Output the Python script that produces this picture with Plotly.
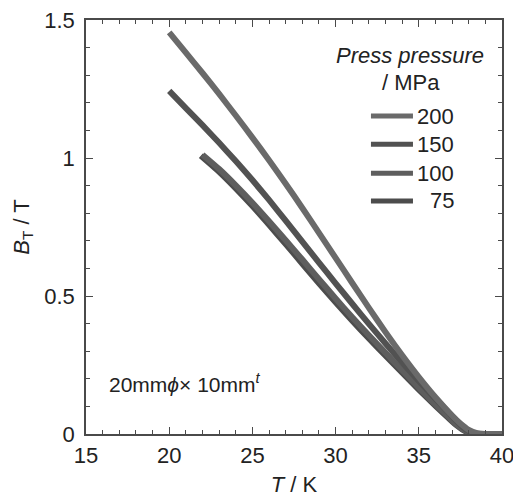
import plotly.graph_objects as go

# ---- data ----
T_200 = [20, 21, 22, 23, 24, 25, 26, 27, 28, 29, 30, 31, 32, 33, 34, 35, 36, 37, 37.5, 38, 38.5, 39, 40]
B_200 = [1.455, 1.382, 1.308, 1.232, 1.154, 1.074, 0.992, 0.907, 0.819, 0.729, 0.638, 0.547, 0.457,
         0.369, 0.285, 0.206, 0.133, 0.067, 0.038, 0.015, 0.003, 0.0, 0.0]

T_150 = [20, 21, 22, 23, 24, 25, 26, 27, 28, 29, 30, 31, 32, 33, 34, 35, 36, 36.8, 37.3, 37.8, 38.3, 39, 40]
B_150 = [1.243, 1.181, 1.119, 1.055, 0.989, 0.920, 0.848, 0.773, 0.697, 0.621, 0.546, 0.472, 0.399,
         0.328, 0.259, 0.192, 0.128, 0.078, 0.046, 0.018, 0.003, 0.0, 0.0]

T_100 = [22.0, 23, 24, 25, 26, 27, 28, 29, 30, 31, 32, 33, 34, 35, 36, 36.8, 37.3, 37.8, 38.3, 39, 40]
B_100 = [1.012, 0.960, 0.901, 0.838, 0.771, 0.702, 0.632, 0.561, 0.491, 0.423, 0.358, 0.294,
         0.231, 0.168, 0.107, 0.061, 0.033, 0.012, 0.002, 0.0, 0.0]

T_75 = [21.9, 23, 24, 25, 26, 27, 28, 29, 30, 31, 32, 33, 34, 35, 36, 36.8, 37.3, 37.8, 38.3, 39, 40]
B_75 = [1.008, 0.950, 0.890, 0.826, 0.758, 0.688, 0.617, 0.546, 0.477, 0.410, 0.346, 0.284,
        0.222, 0.161, 0.102, 0.057, 0.030, 0.010, 0.001, 0.0, 0.0]

series_labels = ["200", "150", "100", "75"]
series_colors = ["#6a6a6a", "#525252", "#5e5e5e", "#4c4c4c"]
series_T = [T_200, T_150, T_100, T_75]
series_B = [B_200, B_150, B_100, B_75]

x_ticks = [15, 20, 25, 30, 35, 40]
y_ticks = [0, 0.5, 1, 1.5]
y_ticklabels = ["0", "0.5", "1", "1.5"]

FONT = "Arial, Liberation Sans, sans-serif"
TXT = "#222222"
AX = "#4a4a4a"
FS = 22

fig = go.Figure()
for T, B, c, lab in reversed(list(zip(series_T, series_B, series_colors, series_labels))):
    fig.add_trace(go.Scatter(x=T, y=B, mode="lines", name=lab,
                             line=dict(color=c, width=6, shape="spline", smoothing=0.6),
                             showlegend=False))

# custom legend
leg_y = [0.768, 0.700, 0.630, 0.563]
for yy, c, lab in zip(leg_y, series_colors, series_labels):
    fig.add_shape(type="line", xref="paper", yref="paper", x0=0.685, x1=0.786, y0=yy, y1=yy,
                  line=dict(color=c, width=5))
    fig.add_annotation(xref="paper", yref="paper", x=0.889, y=yy, text=lab, showarrow=False,
                       xanchor="right", yanchor="middle", font=dict(size=FS, color=TXT, family=FONT))

fig.add_annotation(xref="paper", yref="paper", x=0.962, y=0.915, text="<i>Press pressure</i>",
                   showarrow=False, xanchor="right", yanchor="middle",
                   font=dict(size=FS, color=TXT, family=FONT))
fig.add_annotation(xref="paper", yref="paper", x=0.781, y=0.850, text="/ MPa",
                   showarrow=False, xanchor="center", yanchor="middle",
                   font=dict(size=FS, color=TXT, family=FONT))
fig.add_annotation(xref="paper", yref="paper", x=0.050, y=0.123,
                   text="20mm<i>\u03d5</i>\u00d7 10mm<sup><i>t</i></sup>",
                   showarrow=False, xanchor="left", yanchor="middle",
                   font=dict(size=21, color=TXT, family=FONT))

axis_common = dict(showgrid=False, zeroline=False, showline=True, linecolor=AX, linewidth=1.5,
                   mirror="allticks", ticks="inside", ticklen=7, tickwidth=1.3, tickcolor=AX,
                   automargin=False, ticklabeloverflow="allow",
                   tickfont=dict(size=FS, color=TXT, family=FONT))

fig.update_xaxes(range=[15, 40], tickvals=x_ticks, ticktext=[str(v) for v in x_ticks],
                 minor=dict(dtick=1, ticks="inside", ticklen=4, tickwidth=1.2, tickcolor=AX),
                 title=dict(text="<i>T</i> / K", font=dict(size=FS, color=TXT, family=FONT), standoff=12),
                 ticklabelstandoff=1,
                 **axis_common)
fig.update_yaxes(range=[0, 1.5], tickvals=y_ticks, ticktext=y_ticklabels,
                 minor=dict(dtick=0.1, ticks="inside", ticklen=4, tickwidth=1.2, tickcolor=AX),
                 title=dict(text="<i>B</i><sub>T</sub> / T", font=dict(size=FS, color=TXT, family=FONT), standoff=9),
                 ticklabelstandoff=5,
                 **axis_common)

fig.update_layout(width=513, height=497, margin=dict(l=86, r=11, t=20, b=63),
                  paper_bgcolor="white", plot_bgcolor="white", showlegend=False)

fig.write_html("out.html")
